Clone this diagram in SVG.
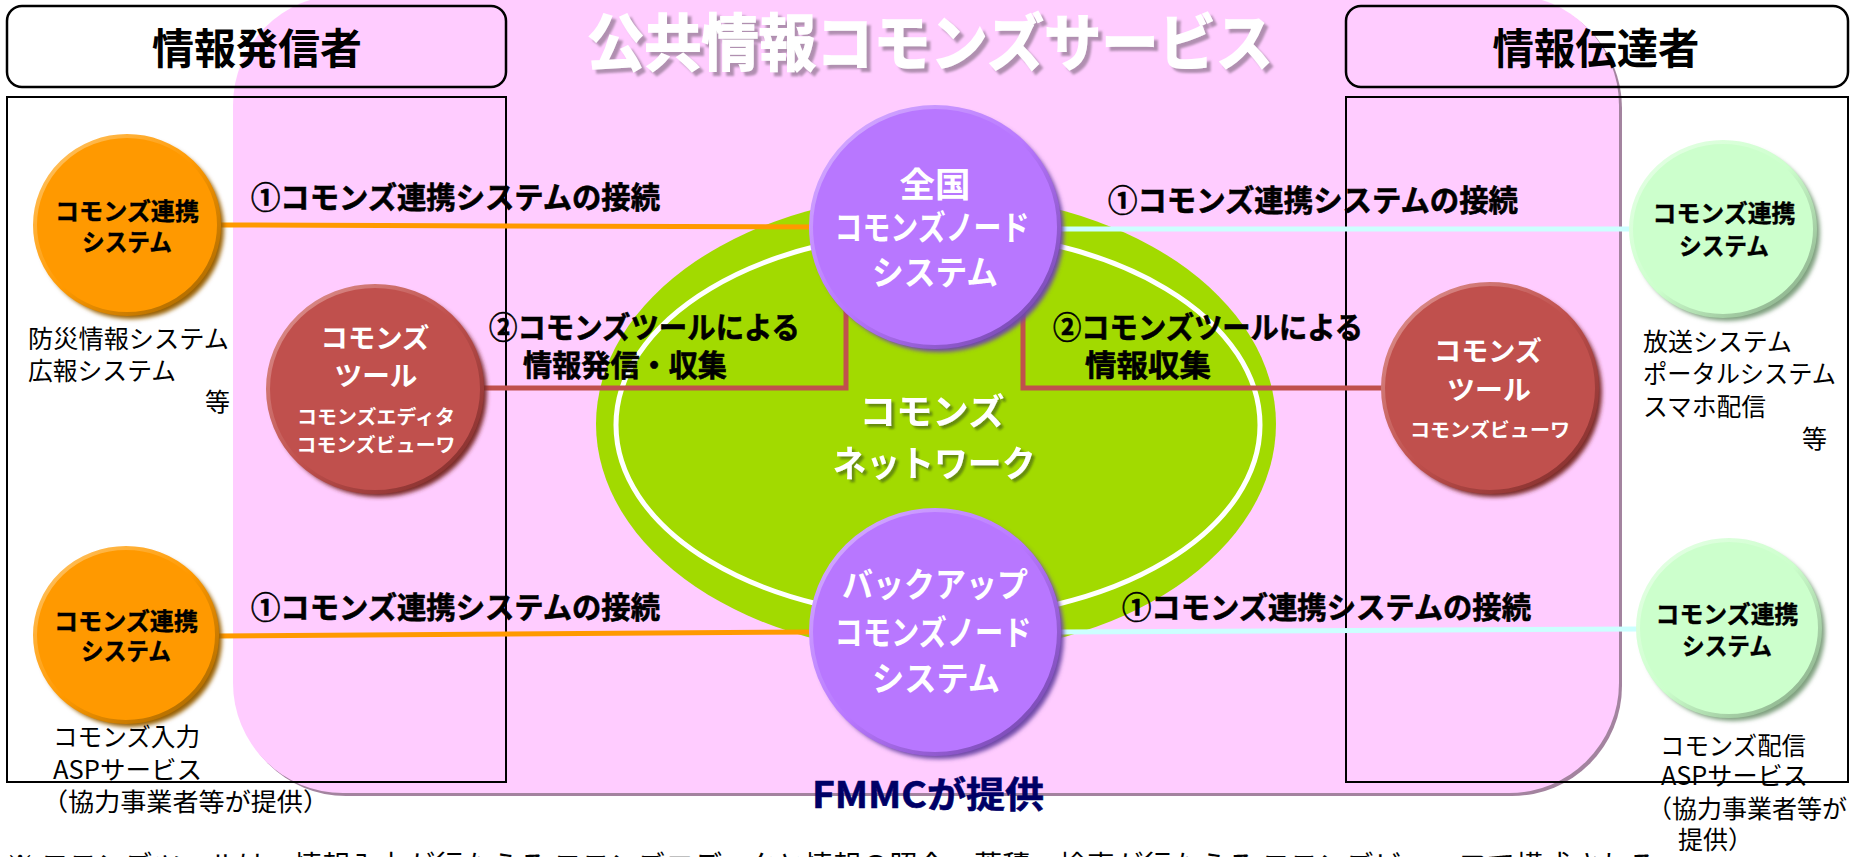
<svg xmlns="http://www.w3.org/2000/svg" width="1855" height="857" viewBox="0 0 1855 857">
<style>
.jp{font-family:"Noto Sans CJK JP","Noto Sans",sans-serif}
.b{font-weight:bold}
.hd{font-size:42px;font-weight:bold;fill:#000}
.lbl{font-size:30px;font-weight:bold;fill:#000;stroke:#000;stroke-width:0.6}
.pl{font-size:25px;fill:#000}
.nd{font-size:24px;font-weight:bold;fill:#000;stroke:#000;stroke-width:0.4}
.wt{fill:#fff;font-weight:bold}
.frame{fill:none;stroke:#000;stroke-width:2}
.hbox{fill:none;stroke:#000;stroke-width:2.5}
.conn{fill:none;stroke-width:5}
</style>
<defs>
<linearGradient id="rOr" x1="0" y1="0" x2="1" y2="1"><stop offset="0" stop-color="#FFC870"/><stop offset="0.5" stop-color="#FF9900"/><stop offset="1" stop-color="#9A6000"/></linearGradient>
<linearGradient id="rPu" x1="0" y1="0" x2="1" y2="1"><stop offset="0" stop-color="#D8B4FF"/><stop offset="0.5" stop-color="#B877FF"/><stop offset="1" stop-color="#6A3FA0"/></linearGradient>
<linearGradient id="rRd" x1="0" y1="0" x2="1" y2="1"><stop offset="0" stop-color="#E09A98"/><stop offset="0.5" stop-color="#C0504D"/><stop offset="1" stop-color="#7A2A28"/></linearGradient>
<linearGradient id="rGn" x1="0" y1="0" x2="1" y2="1"><stop offset="0" stop-color="#E8FFE8"/><stop offset="0.5" stop-color="#CCFFCC"/><stop offset="1" stop-color="#7FA07F"/></linearGradient>
<filter id="blur" x="-10%" y="-10%" width="120%" height="120%"><feGaussianBlur stdDeviation="2"/></filter>
<filter id="tshadow" x="-5%" y="-20%" width="110%" height="140%"><feDropShadow dx="4" dy="4" stdDeviation="1" flood-color="#A888A8" flood-opacity="0.9"/></filter>
<filter id="nshadow" x="-10%" y="-20%" width="120%" height="140%"><feDropShadow dx="3" dy="3" stdDeviation="1" flood-color="#4E6A08" flood-opacity="0.7"/></filter>
</defs>
<rect x="0" y="0" width="1855" height="857" fill="#fff"/>

<g id="commons-area">
<rect x="236" y="-2" width="1386" height="798" rx="110" ry="110" fill="#A3839F"/>
<rect x="233" y="-5" width="1386" height="798" rx="110" ry="110" fill="#FFCCFF"/>
<text class="jp b" x="930" y="66" font-size="62" fill="#fff" stroke="#fff" stroke-width="1.5" text-anchor="middle" textLength="686" lengthAdjust="spacingAndGlyphs" filter="url(#tshadow)">公共情報コモンズサービス</text>
</g>

<g id="sender-header">
<rect class="hbox" x="7" y="6" width="499" height="81" rx="15"/>
<text class="jp hd" x="257" y="64" text-anchor="middle" textLength="210" lengthAdjust="spacingAndGlyphs">情報発信者</text>
</g>
<g id="receiver-header">
<rect class="hbox" x="1346" y="6" width="502" height="81" rx="15"/>
<text class="jp hd" x="1596" y="64" text-anchor="middle" textLength="207" lengthAdjust="spacingAndGlyphs">情報伝達者</text>
</g>

<g id="commons-network">
<ellipse cx="936" cy="424" rx="340" ry="230" fill="#A2DA00"/>
<ellipse cx="938" cy="425" rx="322" ry="193" fill="none" stroke="#fff" stroke-width="5"/>
<g filter="url(#nshadow)">
<text class="jp wt" x="932" y="425" font-size="36" text-anchor="middle" textLength="145" lengthAdjust="spacingAndGlyphs">コモンズ</text>
<text class="jp wt" x="934" y="477" font-size="36" text-anchor="middle" textLength="203" lengthAdjust="spacingAndGlyphs">ネットワーク</text>
</g>
</g>

<g id="frames">
<rect class="frame" x="7" y="97" width="499" height="685"/>
<rect class="frame" x="1346" y="97" width="502" height="685"/>
</g>

<g id="connectors">
<path class="conn" stroke="#FF9900" d="M219,225 L812,227"/>
<path class="conn" stroke="#CCFFFF" d="M1058,229 L1632,229"/>
<path class="conn" stroke="#FF9900" d="M217,636 L812,632"/>
<path class="conn" stroke="#CCFFFF" d="M1059,632 L1639,629"/>
<path class="conn" stroke="#C0504D" d="M481,388 H846 V310"/>
<path class="conn" stroke="#C0504D" d="M1023,310 V388 H1385"/>
</g>

<g id="node-national">
<ellipse cx="939" cy="231" rx="125" ry="121" fill="#7048A8" filter="url(#blur)"/>
<ellipse cx="935" cy="227" rx="124" ry="120" fill="#B877FF" stroke="url(#rPu)" stroke-width="4"/>
<text class="jp wt" x="935" y="197" font-size="34" text-anchor="middle" textLength="71" lengthAdjust="spacingAndGlyphs">全国</text>
<text class="jp wt" x="932" y="240" font-size="34" text-anchor="middle" textLength="195" lengthAdjust="spacingAndGlyphs">コモンズノード</text>
<text class="jp wt" x="935" y="285" font-size="34" text-anchor="middle" textLength="126" lengthAdjust="spacingAndGlyphs">システム</text>
</g>

<g id="node-backup">
<ellipse cx="939" cy="636" rx="125" ry="123" fill="#7048A8" filter="url(#blur)"/>
<ellipse cx="935" cy="632" rx="124" ry="122" fill="#B877FF" stroke="url(#rPu)" stroke-width="4"/>
<text class="jp wt" x="935" y="597" font-size="34" text-anchor="middle" textLength="186" lengthAdjust="spacingAndGlyphs">バックアップ</text>
<text class="jp wt" x="933" y="645" font-size="34" text-anchor="middle" textLength="197" lengthAdjust="spacingAndGlyphs">コモンズノード</text>
<text class="jp wt" x="936" y="691" font-size="34" text-anchor="middle" textLength="128" lengthAdjust="spacingAndGlyphs">システム</text>
</g>

<g id="node-sender-link-1">
<ellipse cx="131" cy="229" rx="93" ry="90" fill="#9A6000" filter="url(#blur)"/>
<ellipse cx="127" cy="225" rx="92" ry="89" fill="#FF9900" stroke="url(#rOr)" stroke-width="4"/>
<text class="jp nd" x="127" y="220" text-anchor="middle" textLength="144" lengthAdjust="spacingAndGlyphs">コモンズ連携</text>
<text class="jp nd" x="127" y="251" text-anchor="middle" textLength="90" lengthAdjust="spacingAndGlyphs">システム</text>
</g>
<g id="text-sender-1">
<text class="jp pl" x="28" y="348" textLength="201" lengthAdjust="spacingAndGlyphs">防災情報システム</text>
<text class="jp pl" x="28" y="380" textLength="148" lengthAdjust="spacingAndGlyphs">広報システム</text>
<text class="jp pl" x="205" y="411">等</text>
</g>

<g id="node-sender-link-2">
<ellipse cx="130" cy="639" rx="92" ry="88" fill="#9A6000" filter="url(#blur)"/>
<ellipse cx="126" cy="635" rx="91" ry="87" fill="#FF9900" stroke="url(#rOr)" stroke-width="4"/>
<text class="jp nd" x="126" y="630" text-anchor="middle" textLength="144" lengthAdjust="spacingAndGlyphs">コモンズ連携</text>
<text class="jp nd" x="126" y="660" text-anchor="middle" textLength="90" lengthAdjust="spacingAndGlyphs">システム</text>
</g>
<g id="text-sender-2">
<text class="jp pl" x="53" y="746" textLength="147" lengthAdjust="spacingAndGlyphs">コモンズ入力</text>
<text class="jp pl" x="53" y="779" textLength="149" lengthAdjust="spacingAndGlyphs">ASPサービス</text>
<text class="jp pl" x="42" y="811" textLength="287" lengthAdjust="spacingAndGlyphs">（協力事業者等が提供）</text>
</g>

<g id="node-tool-left">
<ellipse cx="379" cy="393" rx="108" ry="104" fill="#7A2A28" filter="url(#blur)"/>
<ellipse cx="375" cy="389" rx="107" ry="103" fill="#C0504D" stroke="url(#rRd)" stroke-width="4"/>
<text class="jp wt" x="375" y="348" font-size="27" text-anchor="middle" textLength="109" lengthAdjust="spacingAndGlyphs">コモンズ</text>
<text class="jp wt" x="376" y="386" font-size="27" text-anchor="middle" textLength="83" lengthAdjust="spacingAndGlyphs">ツール</text>
<text class="jp wt" x="376" y="424" font-size="19" text-anchor="middle" textLength="158" lengthAdjust="spacingAndGlyphs">コモンズエディタ</text>
<text class="jp wt" x="376" y="452" font-size="19" text-anchor="middle" textLength="159" lengthAdjust="spacingAndGlyphs">コモンズビューワ</text>
</g>

<g id="node-tool-right">
<ellipse cx="1494" cy="392" rx="108" ry="105" fill="#7A2A28" filter="url(#blur)"/>
<ellipse cx="1490" cy="388" rx="107" ry="104" fill="#C0504D" stroke="url(#rRd)" stroke-width="4"/>
<text class="jp wt" x="1488" y="361" font-size="27" text-anchor="middle" textLength="108" lengthAdjust="spacingAndGlyphs">コモンズ</text>
<text class="jp wt" x="1489" y="400" font-size="27" text-anchor="middle" textLength="84" lengthAdjust="spacingAndGlyphs">ツール</text>
<text class="jp wt" x="1490" y="437" font-size="19" text-anchor="middle" textLength="160" lengthAdjust="spacingAndGlyphs">コモンズビューワ</text>
</g>

<g id="node-receiver-link-1">
<ellipse cx="1727" cy="233" rx="93" ry="88" fill="#7FA07F" filter="url(#blur)"/>
<ellipse cx="1723" cy="229" rx="92" ry="87" fill="#CCFFCC" stroke="url(#rGn)" stroke-width="4"/>
<text class="jp nd" x="1724" y="222" text-anchor="middle" textLength="143" lengthAdjust="spacingAndGlyphs">コモンズ連携</text>
<text class="jp nd" x="1724" y="255" text-anchor="middle" textLength="90" lengthAdjust="spacingAndGlyphs">システム</text>
</g>
<g id="text-receiver-1">
<text class="jp pl" x="1643" y="351" textLength="149" lengthAdjust="spacingAndGlyphs">放送システム</text>
<text class="jp pl" x="1643" y="383" textLength="193" lengthAdjust="spacingAndGlyphs">ポータルシステム</text>
<text class="jp pl" x="1643" y="416" textLength="123" lengthAdjust="spacingAndGlyphs">スマホ配信</text>
<text class="jp pl" x="1802" y="448">等</text>
</g>

<g id="node-receiver-link-2">
<ellipse cx="1733" cy="632" rx="92" ry="89" fill="#7FA07F" filter="url(#blur)"/>
<ellipse cx="1729" cy="628" rx="91" ry="88" fill="#CCFFCC" stroke="url(#rGn)" stroke-width="4"/>
<text class="jp nd" x="1727" y="623" text-anchor="middle" textLength="143" lengthAdjust="spacingAndGlyphs">コモンズ連携</text>
<text class="jp nd" x="1727" y="655" text-anchor="middle" textLength="90" lengthAdjust="spacingAndGlyphs">システム</text>
</g>
<g id="text-receiver-2">
<text class="jp pl" x="1660" y="755" textLength="146" lengthAdjust="spacingAndGlyphs">コモンズ配信</text>
<text class="jp pl" x="1661" y="785" textLength="147" lengthAdjust="spacingAndGlyphs">ASPサービス</text>
<text class="jp pl" x="1647" y="818">（協力事業者等が</text>
<text class="jp pl" x="1678" y="849">提供）</text>
</g>

<g id="labels">
<text class="jp lbl" x="251" y="208" textLength="409" lengthAdjust="spacingAndGlyphs">①コモンズ連携システムの接続</text>
<text class="jp lbl" x="1108" y="211" textLength="410" lengthAdjust="spacingAndGlyphs">①コモンズ連携システムの接続</text>
<text class="jp lbl" x="251" y="618" textLength="409" lengthAdjust="spacingAndGlyphs">①コモンズ連携システムの接続</text>
<text class="jp lbl" x="1122" y="618" textLength="409" lengthAdjust="spacingAndGlyphs">①コモンズ連携システムの接続</text>
<text class="jp lbl" x="489" y="338" textLength="311" lengthAdjust="spacingAndGlyphs">②コモンズツールによる</text>
<text class="jp lbl" x="523" y="376" textLength="204" lengthAdjust="spacingAndGlyphs">情報発信・収集</text>
<text class="jp lbl" x="1053" y="338" textLength="310" lengthAdjust="spacingAndGlyphs">②コモンズツールによる</text>
<text class="jp lbl" x="1085" y="376" textLength="126" lengthAdjust="spacingAndGlyphs">情報収集</text>
</g>

<g id="provider">
<text class="jp b" x="812" y="808" font-size="36" fill="#000066" stroke="#000066" stroke-width="0.6" textLength="232" lengthAdjust="spacingAndGlyphs">FMMCが提供</text>
</g>

<g id="note">
<text class="jp" x="6" y="876" font-size="28" fill="#000" textLength="1650" lengthAdjust="spacingAndGlyphs">※ コモンズツールは、情報入力が行なえる コモンズエディタと情報の照会・蓄積・検索が行なえる コモンズビューワで構成される</text>
</g>
</svg>
